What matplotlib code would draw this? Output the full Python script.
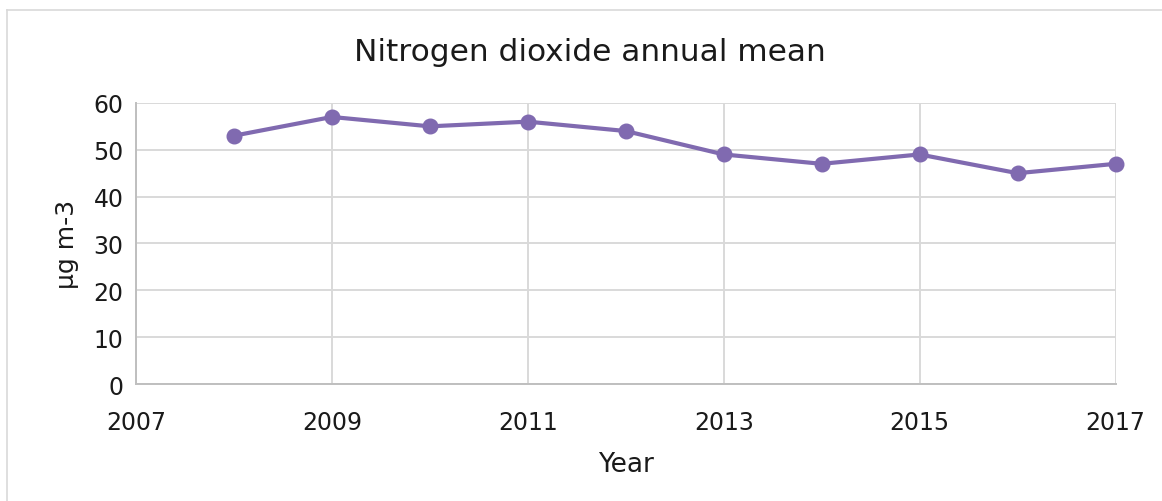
import matplotlib.pyplot as plt
from matplotlib.lines import Line2D

# Annual mean NO2 concentration
years = [2008, 2009, 2010, 2011, 2012, 2013, 2014, 2015, 2016, 2017]
no2_mean = [53, 57, 55, 56, 54, 49, 47, 49, 45, 47]

x_ticks = [2007, 2009, 2011, 2013, 2015, 2017]
y_ticks = [0, 10, 20, 30, 40, 50, 60]

plt.rcParams["font.family"] = ["DejaVu Sans"]

fig = plt.figure(figsize=(11.62, 5.02), dpi=100)
ax = fig.add_axes([0.117, 0.233, 0.843, 0.560])

ax.plot(years, no2_mean, color="#806AB0", linewidth=3, marker="o",
        markersize=10.5, zorder=3, clip_on=False)

ax.set_xlim(2007, 2017)
ax.set_ylim(0, 60)
ax.set_xticks(x_ticks)
ax.set_yticks(y_ticks)
ax.tick_params(axis="both", length=0, labelsize=17, colors="#1a1a1a")
ax.tick_params(axis="x", pad=19)
ax.tick_params(axis="y", pad=9)

ax.grid(True, color="#D9D9D9", linewidth=1.4)
ax.set_axisbelow(True)
for side in ["top", "right"]:
    ax.spines[side].set_visible(False)
for side in ["left", "bottom"]:
    ax.spines[side].set_color("#BFBFBF")
    ax.spines[side].set_linewidth(1.4)

ax.set_xlabel("Year", fontsize=19, color="#1a1a1a", labelpad=12)
ax.set_ylabel("µg m-3", fontsize=18, color="#1a1a1a", labelpad=10)
fig.text(0.508, 0.895, "Nitrogen dioxide annual mean", ha="center",
         va="center", fontsize=22.5, color="#1a1a1a")

# chart frame (top and left edges)
fig.add_artist(Line2D([7 / 1162, 1], [1 - 11 / 502, 1 - 11 / 502],
                      transform=fig.transFigure, color="#D9D9D9", linewidth=1.2))
fig.add_artist(Line2D([7 / 1162, 7 / 1162], [0, 1 - 11 / 502],
                      transform=fig.transFigure, color="#D9D9D9", linewidth=1.2))

fig.savefig("out.png", dpi=100)
